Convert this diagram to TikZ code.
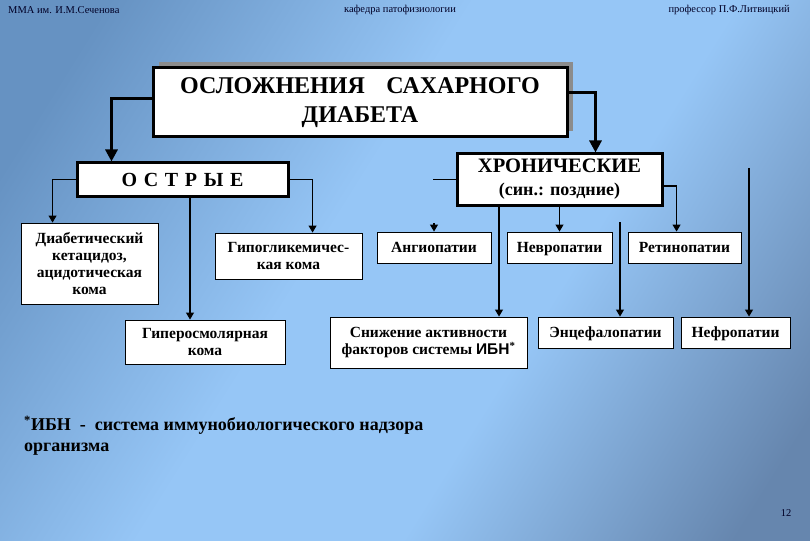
\documentclass[tikz,border=0pt]{standalone}
\usepackage{fontspec}
\setmainfont{Liberation Serif}
\newfontfamily\ibnfont{Liberation Sans}
\usetikzlibrary{arrows.meta,shadows}

\definecolor{bgdark}{RGB}{102,146,194}
\definecolor{bglight}{RGB}{150,198,246}
\definecolor{bgdeep}{RGB}{102,134,174}
\pgfdeclarehorizontalshading{slidebg}{100bp}{color(0bp)=(bgdark); color(22bp)=(bgdark);
	color(44bp)=(bglight); color(60bp)=(bglight); color(80bp)=(bgdeep); color(100bp)=(bgdeep)}

\newcommand*{\picw}{810}
\newcommand*{\pich}{540}

\begin{document}
\begin{tikzpicture}
[
	x=1pt, y=-1pt,
	bigbox/.style={draw, line width=3pt, fill=white, align=center, inner sep=0pt, font=\bfseries},
	smallbox/.style={draw, line width=0.9pt, fill=white, align=center, inner sep=0pt,
		font=\bfseries\fontsize{15.5}{17}\selectfont},
	oneline/.style={smallbox, minimum height=31pt, text height=12.5pt, text depth=3pt},
	thickarrow/.style={line width=3pt, -{Triangle[length=12pt,width=12pt]}},
	thinarrow/.style={line width=1.1pt, -{Triangle[length=7pt,width=8pt]}},
	thinline/.style={line width=1.1pt},
	headtext/.style={font=\fontsize{10.5}{12}\selectfont, text=black!85!blue, inner sep=0pt}
]

	% background
	\useasboundingbox (0,0) rectangle (\picw,\pich);
	\shade[shading=slidebg, shading angle=-32] (0,0) rectangle (\picw,\pich);

	% header
	\node[headtext, anchor=west] (inst) at (8,10) {ММА им. И.М.Сеченова};
	\node[headtext] (dept) at (400,10) {кафедра патофизиологии};
	\node[headtext, anchor=east] (prof) at (790,10) {профессор П.Ф.Литвицкий};
	\node[headtext] (page) at (786,513) {12};

	% title
	\node[bigbox, minimum width=414pt, minimum height=69pt,
		drop shadow={shadow xshift=6pt, shadow yshift=6pt, fill=black!45, opacity=1},
		font=\bfseries\fontsize{24}{29}\selectfont] (title) at (360,102.5)
		{ОСЛОЖНЕНИЯ\hspace{0.9em}САХАРНОГО\\ДИАБЕТА};

	% two groups
	\node[bigbox, minimum width=211pt, minimum height=33pt,
		font=\bfseries\fontsize{20}{22}\selectfont] (ostrye) at (182.5,179.5)
		{О\,\,С\,\,Т\,\,Р\,\,Ы\,\,Е};
	\node[bigbox, minimum width=205pt, minimum height=51pt,
		font=\bfseries\fontsize{20.5}{23}\selectfont] (chron) at (559.5,179.5)
		{ХРОНИЧЕСКИЕ\\{\fontsize{18}{18}\selectfont(син.: поздние)}};

	% acute complications
	\node[smallbox, minimum width=137pt, minimum height=81pt] (diab) at (89.5,263.5)
		{Диабетический\\кетацидоз,\\ацидотическая\\кома};
	\node[smallbox, minimum width=147pt, minimum height=46pt] (hypogly) at (288.5,256)
		{Гипогликемичес-\\кая кома};
	\node[smallbox, minimum width=160pt, minimum height=44pt] (hyperosm) at (205,342)
		{Гиперосмолярная\\кома};

	% chronic complications
	\node[oneline, minimum width=114pt] (angio) at (434,247.5) {Ангиопатии};
	\node[oneline, minimum width=105pt] (neuro) at (559.5,247.5) {Невропатии};
	\node[oneline, minimum width=113pt] (retino) at (684.5,247.5) {Ретинопатии};
	\node[smallbox, minimum width=197pt, minimum height=51pt] (ibn) at (428.5,342.5)
		{Снижение активности\\факторов системы {\ibnfont ИБН}\textsuperscript{*}};
	\node[oneline, minimum width=135pt] (enceph) at (605.5,332.5) {Энцефалопатии};
	\node[oneline, minimum width=109pt] (nephro) at (735.5,332.5) {Нефропатии};

	% footnote
	\node[anchor=north west, align=left, inner sep=0pt,
		font=\bfseries\fontsize{18}{21}\selectfont] (note) at (24,416)
		{\textsuperscript{*}ИБН\ \ -\ \ система иммунобиологического надзора\\организма};

	% free ends
	\coordinate (stubL) at (433,179.5);
	\coordinate (stubA) at (434,223);
	\coordinate (stubE) at (620,222);
	\coordinate (stubN) at (749,168);

	% title to groups
	\draw[thickarrow] ([yshift=3.5pt]title.west) -| ([xshift=36pt]ostrye.north west);
	\draw[thickarrow] ([yshift=9.5pt]title.east) -| ([xshift=140pt]chron.north west);

	% acute links
	\draw[thinarrow] (ostrye.west) -| ([xshift=32pt]diab.north west);
	\draw[thinarrow] (ostrye.east) -| ([xshift=98pt]hypogly.north west);
	\draw[thinarrow] ([xshift=7.5pt]ostrye.south) -- ([xshift=7.5pt]ostrye.south |- hyperosm.north);

	% chronic links
	\draw[thinline] (chron.west) -- (stubL);
	\draw[thinarrow] (stubA) -- (angio.north);
	\draw[thinarrow] ([xshift=-60.5pt]chron.south) -- ([xshift=-60.5pt]chron.south |- ibn.north);
	\draw[thinarrow] (chron.south) -- (neuro.north);
	\draw[thinarrow] ([yshift=-6.5pt]chron.east) -| ([xshift=49pt]retino.north west);
	\draw[thinarrow] (stubE) -- (stubE |- enceph.north);
	\draw[thinarrow] (stubN) -- (stubN |- nephro.north);

\end{tikzpicture}
\end{document}
